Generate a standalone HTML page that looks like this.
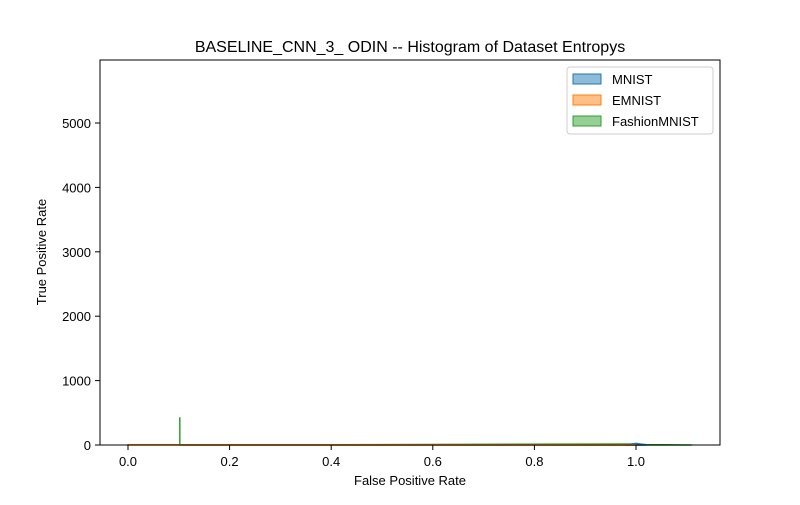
<!DOCTYPE html>
<html><head><meta charset="utf-8"><style>
body{margin:0;background:#fff}
svg{font-family:"Liberation Sans","DejaVu Sans",sans-serif}
</style></head><body>
<svg id="chart" width="800" height="500">
<rect width="800" height="500" fill="#fff"/>
<text x="410" y="52" font-size="16" text-anchor="middle">BASELINE_CNN_3_ ODIN -- Histogram of Dataset Entropys</text>
<g id="marks"></g>
<g id="axes"></g>
<rect x="100" y="60" width="620" height="385" fill="none" stroke="#000" stroke-width="1"/>
<text x="410" y="485" font-size="13" text-anchor="middle">False Positive Rate</text>
<text transform="translate(46,252) rotate(-90)" font-size="13" text-anchor="middle">True Positive Rate</text>
<g>
<rect x="567" y="67" width="146" height="67" rx="3" fill="#fff" stroke="#ccc"/>
<g><rect x="573" y="74" width="28" height="10" fill="#1f77b4" fill-opacity="0.5" stroke="#1f77b4"/><text x="612" y="84" font-size="13">MNIST</text></g>
<g><rect x="573" y="95" width="28" height="10" fill="#ff7f0e" fill-opacity="0.5" stroke="#ff7f0e"/><text x="612" y="105" font-size="13">EMNIST</text></g>
<g><rect x="573" y="116" width="28" height="10" fill="#2ca02c" fill-opacity="0.5" stroke="#2ca02c"/><text x="612" y="126" font-size="13">FashionMNIST</text></g>
</g>
</svg>
<script>
const xTicks=[0,0.2,0.4,0.6,0.8,1.0];
const xTickLabels=["0.0","0.2","0.4","0.6","0.8","1.0"];
const yTicks=[0,1000,2000,3000,4000,5000];
const yTickLabels=["0","1000","2000","3000","4000","5000"];
const mnistX=[0.98,1.0,1.02];
const mnistY=[0,25,0];
const emnistX=[0,1.0];
const emnistY=[3,3];
const fashionX=[0.102,0.102,0.102,1.0,1.02,1.11];
const fashionY=[0,430,0,15,6,0];
const X=v=>128+v*508;
const Y=v=>445-v*0.0644;
const ns="http://www.w3.org/2000/svg";
const ax=document.getElementById('axes'),mk=document.getElementById('marks');
function el(t,a,p){const e=document.createElementNS(ns,t);for(const k in a)e.setAttribute(k,a[k]);p.appendChild(e);return e;}
xTicks.forEach((v,i)=>{
 const l=el('line',{x1:X(v),x2:X(v),y1:445,y2:450,stroke:'#000'},ax);
 
 
 const t=el('text',{x:X(v),y:466,'font-size':13,'text-anchor':'middle'},ax);t.textContent=xTickLabels[i];
 
 
});
yTicks.forEach((v,i)=>{
 const l=el('line',{x1:95,x2:100,y1:Y(v),y2:Y(v),stroke:'#000'},ax);
 
 
 const t=el('text',{x:91,y:Y(v)+5,'font-size':13,'text-anchor':'end'},ax);t.textContent=yTickLabels[i];
 
 
});
function series(xs,ys,c,name){
 let d='M'+X(xs[0])+','+Y(0);
 xs.forEach((x,i)=>d+=' L'+X(x)+','+Y(ys[i]));
 d+=' L'+X(xs[xs.length-1])+','+Y(0)+' Z';
 const p=el('path',{d:d,fill:c,'fill-opacity':0.5,stroke:c,'stroke-width':1.5},mk);
 
 
}
series(fashionX,fashionY,'#2ca02c','series-fashionmnist');
series(mnistX,mnistY,'#1f77b4','series-mnist');
series(emnistX,emnistY,'#ff7f0e','series-emnist');
</script>
</body></html>
